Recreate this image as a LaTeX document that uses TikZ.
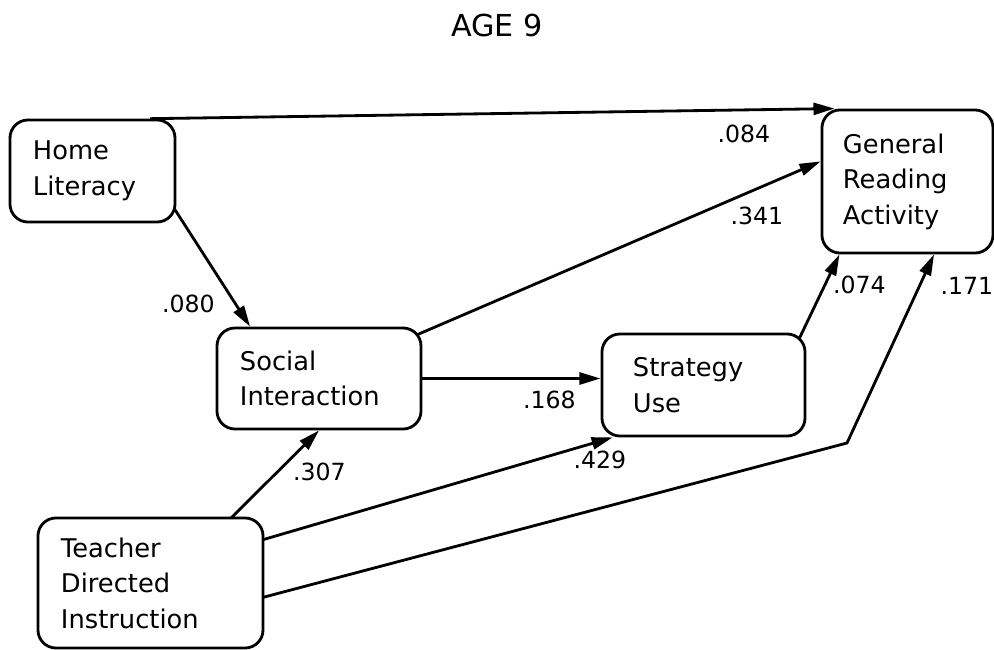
\documentclass[tikz,border=0pt]{standalone}
\usepackage{fontspec}
\setmainfont{DejaVu Sans}
\usetikzlibrary{arrows.meta,backgrounds}

\tikzset{
    varbox/.style={draw, fill=white, line width=2pt, rounded corners=0.45cm,
        align=left, inner xsep=0pt, inner ysep=0pt,
        font=\fontsize{18.3}{25.2}\selectfont},
    effect/.style={-{Triangle[length=15pt,width=8.5pt]}, line width=2pt, shorten <=-5pt},
    coef/.style={font=\fontsize{16.8}{19}\selectfont, inner sep=0pt}
}

\begin{document}
\begin{tikzpicture}[x=0.025cm, y=-0.025cm]
    \useasboundingbox (0,0) rectangle (994,650);
    \node (title) at (497,25) {\fontsize{21.5}{25}\selectfont AGE 9};
    \node[varbox, minimum width=4.125cm, minimum height=2.55cm, text width=2.975cm] (HL) at (92.5,171) {Home\\Literacy};
    \node[varbox, minimum width=4.275cm, minimum height=3.575cm, text width=3.225cm] (GRA) at (907.5,181.5) {General\\Reading\\Activity};
    \node[varbox, minimum width=5.1cm, minimum height=2.525cm, text width=3.95cm] (SI) at (319,378.5) {Social\\Interaction};
    \node[varbox, minimum width=5.075cm, minimum height=2.55cm, text width=3.525cm] (SU) at (703.5,385) {Strategy\\Use};
    \node[varbox, minimum width=5.625cm, minimum height=3.25cm, text width=4.475cm] (TDI) at (150.5,583) {Teacher\\Directed\\Instruction};
    \coordinate (bend) at (847,443);
    \begin{scope}[on background layer]
    \draw[effect] (HL.39) -- node[coef, pos=0.866, yshift=-16.9pt] (c084) {.084} (GRA.135);
    \draw[effect] (HL.-26.7) -- node[coef, pos=0.8, xshift=-33.4pt] (c080) {.080} (SI.143.8);
    \draw[effect] (SI.24.4) -- node[coef, pos=0.84, yshift=-19.1pt] (c341) {.341} (GRA.167.8);
    \draw[effect] (SI.east) -- node[coef, pos=0.713, yshift=-15.3pt] (c168) {.168} (SI.east -| SU.west);
    \draw[effect] (TDI.39.3) -- node[coef, pos=0.517, xshift=30pt] (c307) {.307} (SI.south);
    \draw[effect] (TDI.21.8) -- node[coef, pos=0.963, yshift=-13.6pt] (c429) {.429} (SU.210);
    \draw[effect] (TDI.-7.6) -- (bend) -- node[coef, pos=0.832, xshift=33.8pt] (c171) {.171} (GRA.-70.4);
    \draw[effect] (SU.28) -- node[coef, pos=0.605, xshift=24.7pt] (c074) {.074} (GRA.227.5);
    \end{scope}
\end{tikzpicture}
\end{document}
